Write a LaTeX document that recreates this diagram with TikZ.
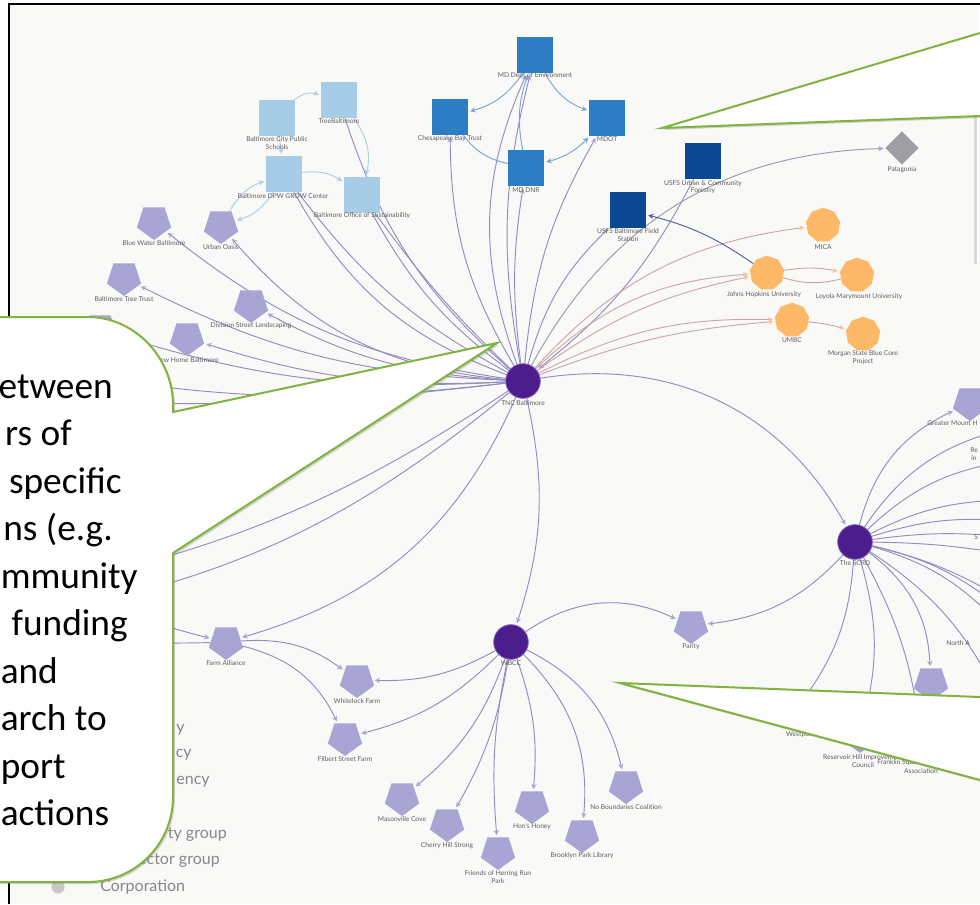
\documentclass[tikz,border=0pt]{standalone}
\usepackage{fontspec}
\usetikzlibrary{shapes.geometric,arrows.meta,shadows}
\newfontfamily\lblfont{Lato}
\newfontfamily\calfont{Carlito}
\definecolor{bgc}{RGB}{249,249,247}
\definecolor{ltblue}{RGB}{166,204,232}
\definecolor{mdblue}{RGB}{44,125,196}
\definecolor{navy}{RGB}{12,72,148}
\definecolor{orng}{RGB}{253,185,104}
\definecolor{pentc}{RGB}{168,164,212}
\definecolor{hubc}{RGB}{76,29,141}
\definecolor{hubring}{RGB}{130,100,190}
\definecolor{diamc}{RGB}{158,158,163}
\definecolor{edgec}{RGB}{146,140,190}
\definecolor{arrc}{RGB}{170,165,212}
\definecolor{bedge}{RGB}{120,165,210}
\definecolor{gedge}{RGB}{175,205,228}
\definecolor{oedge}{RGB}{205,165,170}
\definecolor{oarr}{RGB}{250,200,150}
\definecolor{navyedge}{RGB}{80,95,160}
\definecolor{lblc}{RGB}{95,95,95}
\definecolor{legc}{RGB}{135,135,135}
\definecolor{legdot}{RGB}{200,200,200}
\definecolor{callg}{RGB}{128,179,63}
\pgfdeclarelayer{bg}
\pgfsetlayers{bg,main}
\begin{document}
\begin{tikzpicture}[x=0.75pt,y=-0.75pt,
  sqL/.style={rectangle,fill=ltblue,minimum size=27pt,inner sep=0pt},
  sqM/.style={rectangle,fill=mdblue,minimum size=27pt,inner sep=0pt},
  sqD/.style={rectangle,fill=navy,minimum size=27pt,inner sep=0pt},
  pent/.style={regular polygon,regular polygon sides=5,shape border rotate=180,fill=pentc,minimum size=27pt,inner sep=0pt},
  nona/.style={regular polygon,regular polygon sides=9,fill=orng,minimum size=26pt,inner sep=0pt},
  hub/.style={circle,fill=hubc,draw=hubring,line width=0.6pt,minimum size=26pt,inner sep=0pt},
  diam/.style={diamond,fill=diamc,minimum width=25pt,minimum height=25pt,inner sep=0pt},
  lbl/.style={font=\lblfont\fontsize{5}{5.8}\selectfont,text=lblc,inner sep=0pt,align=center},
  leg/.style={font=\lblfont\fontsize{12}{14}\selectfont,text=legc,inner sep=0pt},
  ctext/.style={font=\calfont\fontsize{28}{34}\selectfont,text=black,inner sep=0pt},
  eT/.style={draw=edgec,line width=0.7pt,-{Stealth[length=4pt,width=4pt,color=arrc]},shorten >=1.5pt},
  eTn/.style={draw=edgec,line width=0.7pt},
  eB/.style={draw=bedge,line width=0.7pt,-{Stealth[length=4pt,width=4pt]},shorten >=1.5pt},
  eBn/.style={draw=bedge,line width=0.7pt},
  eG/.style={draw=gedge,line width=0.7pt,-{Stealth[length=4pt,width=4pt]},shorten >=1.5pt},
  eO/.style={draw=oedge,line width=0.7pt,-{Stealth[length=4pt,width=4pt,color=oarr]},shorten >=1.5pt},
  eOn/.style={draw=oedge,line width=0.7pt},
  eN/.style={draw=navyedge,line width=0.7pt,-{Stealth[length=4pt,width=4pt]},shorten >=1.5pt},
  shad/.style={drop shadow={shadow xshift=1.5pt,shadow yshift=-1.5pt,opacity=0.3}}
]
\useasboundingbox (0,0) rectangle (980,904);
\begin{scope}
\clip (0,0) rectangle (980,904);
% ---------- nodes ----------
\node[sqL] (schools) at (277,118) {};
\node[sqL] (treeb) at (339,100) {};
\node[sqL] (dpw) at (284,174) {};
\node[sqL] (obs) at (362,195) {};
\node[sqM] (mde) at (535,55) {};
\node[sqM] (cbt) at (450,117) {};
\node[sqM] (mdot) at (607,118) {};
\node[sqM] (dnr) at (526,168) {};
\node[sqD] (usfsu) at (703,161) {};
\node[sqD] (usfsb) at (628,210) {};
\node[diam] (pata) at (902,148) {};
\node[nona] (mica) at (823,225) {};
\node[nona] (jhu) at (767,273) {};
\node[nona] (lmu) at (857,275) {};
\node[nona] (umbc) at (792,320) {};
\node[nona] (msu) at (863,334) {};
\node[hub] (tnc) at (523,381) {};
\node[hub] (scrd) at (855,542) {};
\node[hub] (wbcc) at (511,642) {};
\node[pent] (bwb) at (154,222) {};
\node[pent] (uo) at (221,226) {};
\node[pent] (btt) at (124,278) {};
\node[pent] (dsl) at (251,305) {};
\node[pent] (nhb) at (187,338) {};
\node[pent] (hpn) at (100,330) {};
\node[pent] (fa) at (226,642) {};
\node[pent] (wf) at (357,680) {};
\node[pent] (fsf) at (345,738) {};
\node[pent] (mc) at (402,798) {};
\node[pent] (chs) at (447,824) {};
\node[pent] (fhr) at (498,852) {};
\node[pent] (hh) at (532,806) {};
\node[pent] (bpl) at (582,835) {};
\node[pent] (nbc) at (626,786) {};
\node[pent] (parity) at (691,626) {};
\node[pent] (gmh) at (970,403) {};
\node[pent] (botp) at (931,683) {};
\node[pent] (rhic) at (860,735) {};
\node[pent] (wpn) at (795,712) {};
\node[pent] (fsq) at (922,742) {};
% hidden / off-page ends
\coordinate (hB) at (60,372);
\coordinate (hC) at (30,398);
\coordinate (hE) at (60,585);
\coordinate (hH) at (40,615);
\coordinate (hF) at (40,562);
\coordinate (hG) at (40,632);
\coordinate (r1) at (1000,430);
\coordinate (r2) at (1000,462);
\coordinate (r3) at (1000,500);
\coordinate (r4) at (1000,520);
\coordinate (r5) at (1000,536);
\coordinate (r6) at (1000,553);
\coordinate (r7) at (1000,597);
\coordinate (r8) at (1000,607);
\coordinate (r9) at (1000,625);
\coordinate (r10) at (1000,700);
% ---------- labels ----------
\node[lbl] (Lsch) at (277,143) {Baltimore City Public\\Schools};
\node[lbl] (Ltrb) at (339,121) {TreeBaltimore};
\node[lbl] (Ldpw) at (283,196) {Baltimore DPW GROW Center};
\node[lbl] (Lobs) at (362,216) {Baltimore Office of Sustainability};
\node[lbl] (Lmde) at (535,76) {MD Dept of Environment};
\node[lbl] (Lcbt) at (450,139) {Chesapeake Bay Trust};
\node[lbl] (Lmdot) at (607,139) {MDOT};
\node[lbl] (Ldnr) at (526,190) {MD DNR};
\node[lbl] (Lusu) at (703,187) {USFS Urban \& Community\\Forestry};
\node[lbl] (Lusb) at (628,235) {USFS Baltimore Field\\Station};
\node[lbl] (Lpat) at (902,170) {Patagonia};
\node[lbl] (Lmica) at (823,247) {MICA};
\node[lbl] (Ljhu) at (764,295) {Johns Hopkins University};
\node[lbl] (Llmu) at (859,297) {Loyola Marymount University};
\node[lbl] (Lumbc) at (792,340) {UMBC};
\node[lbl] (Lmsu) at (863,358) {Morgan State Blue Core\\Project};
\node[lbl] (Ltnc) at (523,403) {TNC Baltimore};
\node[lbl] (Lscrd) at (855,563) {The SCRD};
\node[lbl] (Lwbcc) at (511,663) {WBCC};
\node[lbl] (Lbwb) at (154,243) {Blue Water Baltimore};
\node[lbl] (Luo) at (221,247) {Urban Oasis};
\node[lbl] (Lbtt) at (124,299) {Baltimore Tree Trust};
\node[lbl] (Ldsl) at (251,326) {Division Street Landscaping};
\node[lbl] (Lnhb) at (187,360) {New Home Baltimore};
\node[lbl] (Lfa) at (226,663) {Farm Alliance};
\node[lbl] (Lwf) at (357,701) {Whitelock Farm};
\node[lbl] (Lfsf) at (345,759) {Filbert Street Farm};
\node[lbl] (Lmc) at (402,819) {Masonville Cove};
\node[lbl] (Lchs) at (447,846) {Cherry Hill Strong};
\node[lbl] (Lfhr) at (498,877) {Friends of Herring Run\\Park};
\node[lbl] (Lhh) at (532,827) {Hon's Honey};
\node[lbl] (Lbpl) at (582,856) {Brooklyn Park Library};
\node[lbl] (Lnbc) at (626,807) {No Boundaries Coalition};
\node[lbl] (Lpar) at (691,647) {Parity};
\node[lbl,anchor=west] (Lgmh) at (927,423) {Greater Mount H};
\node[lbl,anchor=west] (Lre) at (970,450) {Re};
\node[lbl,anchor=west] (Lin) at (971,458) {in};
\node[lbl,anchor=west] (Ls) at (974,537) {S};
\node[lbl,anchor=west] (Lna) at (946,643) {North A};
\node[lbl] (Lwp) at (800,735) {Westport};
\node[lbl] (Lrh) at (863,761) {Reservoir Hill Improvement\\Council};
\node[lbl,anchor=west] (Lfs1) at (877,763) {Franklin Square};
\node[lbl] (Lfs2) at (921,771) {Association};
% ---------- legend (partly hidden) ----------
\node[leg,anchor=base east] (g1) at (185,732) {y};
\node[leg,anchor=base east] (g2) at (192,757) {cy};
\node[leg,anchor=base east] (g3) at (210,784) {ency};
\node[leg,anchor=base east] (g4) at (227,838) {ty group};
\node[leg,anchor=base east] (g5) at (220,864) {ector group};
\node[leg,anchor=base west] (g6) at (100,891) {Corporation};
\node[circle,fill=legdot,minimum size=10pt,inner sep=0pt] (gdot) at (58,887) {};
\end{scope}
% ---------- background and edges ----------
\begin{pgfonlayer}{bg}
\clip (0,0) rectangle (980,904);
\fill[white] (0,0) rectangle (980,904);
\fill[bgc] (9,4) rectangle (980,904);
\draw[black,line width=1.5pt] (9,904) -- (9,4) -- (980,4);
% TNC
\draw[eT] (tnc) to[bend left=15] (cbt);
\draw[eT] (tnc) to[bend left=12] (mde);
\draw[eT] (tnc) to[bend left=22] (mde);
\draw[eT] (tnc) to[bend left=8] (dnr);
\draw[eT] (tnc) to[bend left=12] (mdot);
\draw[eT] (tnc) to[bend left=15] (usfsb);
\draw[eT] (usfsu) to[bend left=12] (tnc);
\draw[eT,draw=diamc!70!edgec] (tnc) to[bend left=30] (pata);
\draw[eO] (tnc) to[bend left=20] (mica);
\draw[eO] (tnc) to[bend left=12] (jhu);
\draw[eO] (tnc) to[bend left=20] (jhu);
\draw[eO] (tnc) to[bend left=8] (umbc);
\draw[eO] (tnc) to[bend left=14] (umbc);
\draw[eO] (jhu) to[bend left=10] (lmu);
\draw[eOn] (lmu) to[bend left=15] (jhu);
\draw[eO] (umbc) to[bend left=5] (msu);
\draw[eN] (jhu) to[bend right=10] (usfsb);
\draw[eT] (tnc) to[bend left=35] (scrd);
\draw[eT] (tnc) to[bend left=15] (wbcc);
\draw[eT] (tnc) to[bend left=25] (fa);
\draw[eT] (tnc) to[bend left=15] (bwb);
\draw[eT] (tnc) to[bend left=22] (uo);
\draw[eT] (tnc) to[bend left=12] (btt);
\draw[eT] (tnc) to[bend left=12] (dsl);
\draw[eT] (tnc) to[bend left=10] (nhb);
\draw[eT] (tnc) to[bend left=10] (hpn);
\draw[eTn] (tnc) to[bend left=8] (hB);
\draw[eTn] (tnc) to[bend left=5] (hC);
\draw[eTn] (tnc) to[bend left=10] (hE);
\draw[eTn] (tnc) to[bend left=14] (hH);
\draw[eTn] (dpw) to[bend right=20] (tnc);
\draw[eTn] (dpw) to[bend right=12] (tnc);
\draw[eTn] (obs) to[bend right=12] (tnc);
\draw[eTn] (obs) to[bend right=5] (tnc);
\draw[eTn] (treeb) to[bend right=15] (tnc);
% Farm Alliance
\draw[eT] (hF) to[bend right=10] (fa);
\draw[eTn] (fa) to[bend left=5] (hG);
\draw[eT] (fa) to[bend left=20] (wf);
\draw[eT] (fa) to[bend left=25] (fsf);
% WBCC
\draw[eT] (wbcc) to[bend left=30] (parity);
\draw[eT] (wbcc) to[bend left=15] (wf);
\draw[eT] (wbcc) to[bend left=15] (fsf);
\draw[eT] (wbcc) to[bend left=15] (mc);
\draw[eT] (wbcc) to[bend left=10] (chs);
\draw[eT] (wbcc) to[bend right=8] (fhr);
\draw[eT] (wbcc) to[bend left=12] (hh);
\draw[eT] (wbcc) to[bend left=25] (bpl);
\draw[eT] (wbcc) to[bend left=25] (nbc);
% SCRD
\draw[eT] (scrd) to[bend left=20] (parity);
\draw[eT] (scrd) to[bend left=25] (gmh);
\draw[eTn] (scrd) to[bend left=20] (r1);
\draw[eTn] (scrd) to[bend left=16] (r2);
\draw[eTn] (scrd) to[bend left=12] (r3);
\draw[eTn] (scrd) to[bend left=10] (r4);
\draw[eTn] (scrd) to[bend left=6] (r5);
\draw[eTn] (scrd) to[bend left=4] (r6);
\draw[eTn] (scrd) to[bend left=8] (r7);
\draw[eTn] (scrd) to[bend left=12] (r8);
\draw[eTn] (scrd) to[bend left=15] (r9);
\draw[eTn] (scrd) to[bend left=15] (r10);
\draw[eT] (scrd) to[bend left=25] (botp);
\draw[eT] (scrd) to[bend left=15] (wpn);
\draw[eT] (scrd) to[bend left=15] (rhic);
\draw[eT] (scrd) to[bend left=10] (fsq);
% blue cluster
\draw[eB] (mde) to[bend left=20] (cbt);
\draw[eB] (mde) to[bend right=20] (mdot);
\draw[eB] (dnr) to[bend left=15] (mde);
\draw[eBn] (cbt) to[bend right=20] (dnr);
\draw[eB,{Stealth[length=4pt,width=4pt]}-{Stealth[length=4pt,width=4pt]},shorten <=1.5pt] (dnr) to[bend right=15] (mdot);
% light blue cluster
\draw[eG] (schools) to[bend left=30] (treeb);
\draw[eG] (treeb) to[bend left=25] (obs);
\draw[eG] (dpw) to[bend left=20] (obs);
\draw[eG] (schools) -- (dpw);
\draw[eG] (dpw) to[bend left=20] (uo);
\draw[eG] (uo) to[bend left=20] (dpw);
\end{pgfonlayer}
% ---------- callouts ----------
\begin{scope}
\clip (0,0) rectangle (980,904);
% left callout
\path[fill=white,draw=callg,line width=1.5pt,shad]
  (-30,317) -- (88,317) .. controls (135,317) and (173,358) .. (173,405)
  -- (173,412) -- (497,343) -- (173,553) -- (173,797)
  .. controls (173,844) and (135,882) .. (88,882) -- (-30,882) -- cycle;
\node[ctext,anchor=base east] (c1) at (113,398) {etween};
\node[ctext,anchor=base east] (c2) at (72,445.5) {rs of};
\node[ctext,anchor=base east] (c3) at (122,493) {specific};
\node[ctext,anchor=base east] (c4) at (113,540.5) {ns (e.g.};
\node[ctext,anchor=base west] (c5) at (0.5,588) {mmunity};
\node[ctext,anchor=base east] (c6) at (128,635.5) {funding};
\node[ctext,anchor=base west] (c7) at (0.5,683) {and};
\node[ctext,anchor=base west] (c8) at (0.5,730.5) {arch to};
\node[ctext,anchor=base west] (c9) at (0.5,778) {port};
\node[ctext,anchor=base west] (c10) at (0.5,825.5) {actions};
% top-right callout
\fill[black,opacity=0.12] (974,116) rectangle (977,264);
\fill[white] (977,8) rectangle (995,262);
\path[fill=white,shad] (990,30) -- (662,128) -- (990,115.6) -- cycle;
\draw[callg,line width=1.5pt] (990,30) -- (662,128) -- (990,115.6);
% bottom-right callout
\path[fill=white,shad] (990,697.4) -- (620,683) -- (990,782.7) -- cycle;
\draw[callg,line width=1.5pt] (990,697.4) -- (620,683) -- (990,782.7);
\end{scope}
\end{tikzpicture}
\end{document}
